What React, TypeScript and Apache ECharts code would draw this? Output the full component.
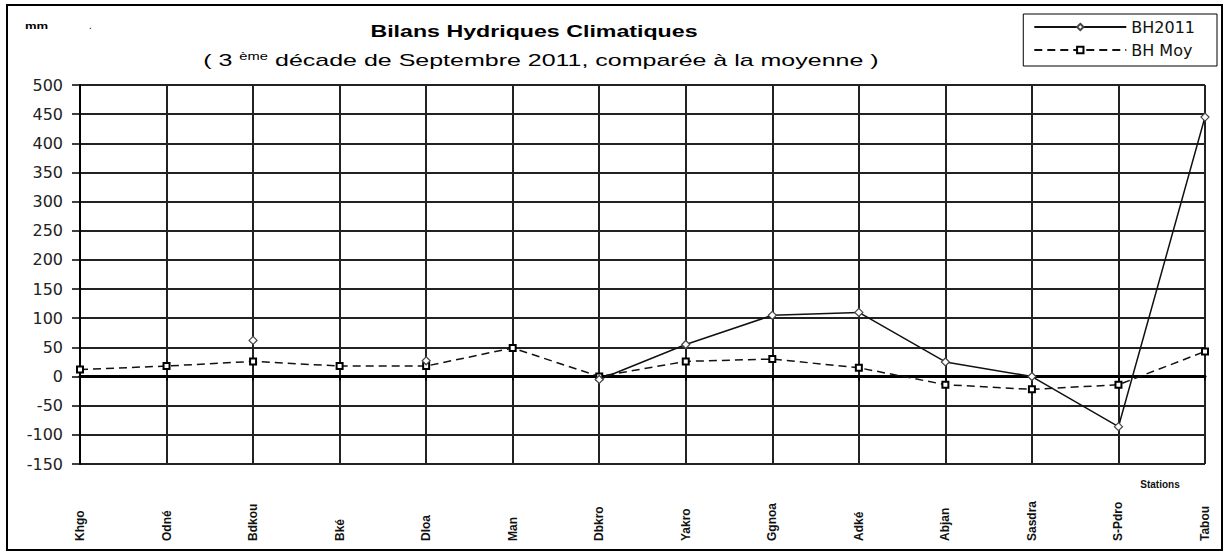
import React, { useEffect, useRef } from "react";
import * as echarts from "echarts";

const categories = ["Khgo", "Odné", "Bdkou", "Bké", "Dloa", "Man", "Dbkro", "Yakro", "Ggnoa", "Adké", "Abjan", "Sasdra", "S-Pdro", "Tabou"];
const bh2011: (number | null)[] = [null, null, 62, null, 27, null, -5, 55, 105, 110, 25, 0, -86, 445];
const bhMoy: number[] = [12, 18, 26, 18, 18, 49, 0, 26, 30, 15, -14, -22, -14, 43];
const yMin = -150;
const yMax = 500;
const yStep = 50;

const titleText = "Bilans Hydriques Climatiques";
const subtitleText = "( 3 {sup|ème} décade de Septembre 2011, comparée à la moyenne )";
const unitText = "mm";
const xName = "Stations";

const GRID = "#222";

export default function App() {
  const ref = useRef<HTMLDivElement>(null);
  useEffect(() => {
    document.body.style.margin = "0";
    const chart = echarts.init(ref.current!, null, { renderer: "svg" });
    chart.setOption({
      animation: false,
      backgroundColor: "#fff",
      grid: { left: 80, right: 25, top: 85, bottom: 92, containLabel: false },
      legend: {
        orient: "vertical",
        right: 13,
        top: 14,
        borderColor: "#000",
        borderWidth: 1,
        padding: [5, 22, 8, 10],
        itemGap: 7,
        itemWidth: 92,
        itemHeight: 8,
        textStyle: { fontFamily: "DejaVu Sans", fontSize: 16, color: "#111" },
        data: ["BH2011", "BH Moy"],
      },
      xAxis: [
        {
          type: "category",
          data: categories,
          boundaryGap: false,
          position: "bottom",
          axisLine: { onZero: true, lineStyle: { color: "#000", width: 3 } },
          axisTick: { show: true, length: 4, interval: 0, lineStyle: { color: "#000", width: 2 } },
          axisLabel: { show: false },
          splitLine: { show: true, interval: 0, lineStyle: { color: GRID, width: 2 } },
        },
        {
          type: "category",
          data: categories,
          boundaryGap: false,
          position: "bottom",
          axisLine: { show: false, onZero: false },
          axisTick: { show: false },
          splitLine: { show: false },
          axisLabel: {
            interval: 0,
            rotate: 90,
            align: "left",
            margin: 77,
            fontFamily: "Liberation Sans",
            fontWeight: "bold",
            fontSize: 12,
            color: "#111",
          },
        },
      ],
      yAxis: {
        type: "value",
        min: yMin,
        max: yMax,
        interval: yStep,
        axisLine: { show: true, lineStyle: { color: "#000", width: 2 } },
        axisTick: { show: true, length: 8, lineStyle: { color: "#000", width: 1.5 } },
        axisLabel: { margin: 17, fontFamily: "DejaVu Sans", fontSize: 16, color: "#222" },
        splitLine: { show: true, lineStyle: { color: GRID, width: 2 } },
      },
      series: [
        {
          name: "BH2011",
          type: "line",
          xAxisIndex: 0,
          data: bh2011,
          connectNulls: false,
          symbol: "diamond",
          symbolSize: 8,
          showAllSymbol: true,
          lineStyle: { color: "#111", width: 1.5, type: "solid" },
          itemStyle: { color: "#fff", borderColor: "#444", borderWidth: 1.2 },
          z: 4,
        },
        {
          name: "BH Moy",
          type: "line",
          xAxisIndex: 0,
          data: bhMoy,
          symbol: "rect",
          symbolSize: 6,
          showAllSymbol: true,
          lineStyle: { color: "#111", width: 1.5, type: [8, 5] },
          itemStyle: { color: "#fff", borderColor: "#000", borderWidth: 2 },
          z: 3,
        },
      ],
      graphic: [
        {
          type: "rect",
          shape: { x: 7, y: 5, width: 1215, height: 545 },
          style: { fill: "none", stroke: "#000", lineWidth: 2 },
          silent: true,
        },
        {
          type: "text",
          x: 534,
          y: 31,
          scaleX: 1.45,
          style: {
            text: titleText,
            fontFamily: "Liberation Sans",
            fontWeight: "bold",
            fontSize: 16,
            fill: "#000",
            align: "center",
            verticalAlign: "middle",
          },
        },
        {
          type: "text",
          x: 541,
          y: 60,
          scaleX: 1.47,
          style: {
            text: subtitleText,
            fontFamily: "Liberation Sans",
            fontSize: 17,
            fill: "#000",
            align: "center",
            verticalAlign: "middle",
            rich: {
              sup: { fontFamily: "Liberation Sans", fontSize: 10, verticalAlign: "top", fill: "#000" },
            },
          },
        },
        {
          type: "text",
          x: 25,
          y: 26,
          scaleX: 1.45,
          style: {
            text: unitText,
            fontFamily: "Liberation Sans",
            fontWeight: "bold",
            fontSize: 9,
            fill: "#000",
            align: "left",
            verticalAlign: "middle",
          },
        },
        {
          type: "text",
          x: 89,
          y: 25,
          style: { text: ".", fontFamily: "Liberation Sans", fontSize: 10, fill: "#000", align: "left", verticalAlign: "middle" },
        },
        {
          type: "text",
          x: 1160,
          y: 484,
          style: {
            text: xName,
            fontFamily: "Liberation Sans",
            fontWeight: "bold",
            fontSize: 10,
            fill: "#111",
            align: "center",
            verticalAlign: "middle",
          },
        },
      ],
    });
    return () => chart.dispose();
  }, []);
  return <div ref={ref} style={{ position: "absolute", left: 0, top: 0, width: 1230, height: 556 }} />;
}
